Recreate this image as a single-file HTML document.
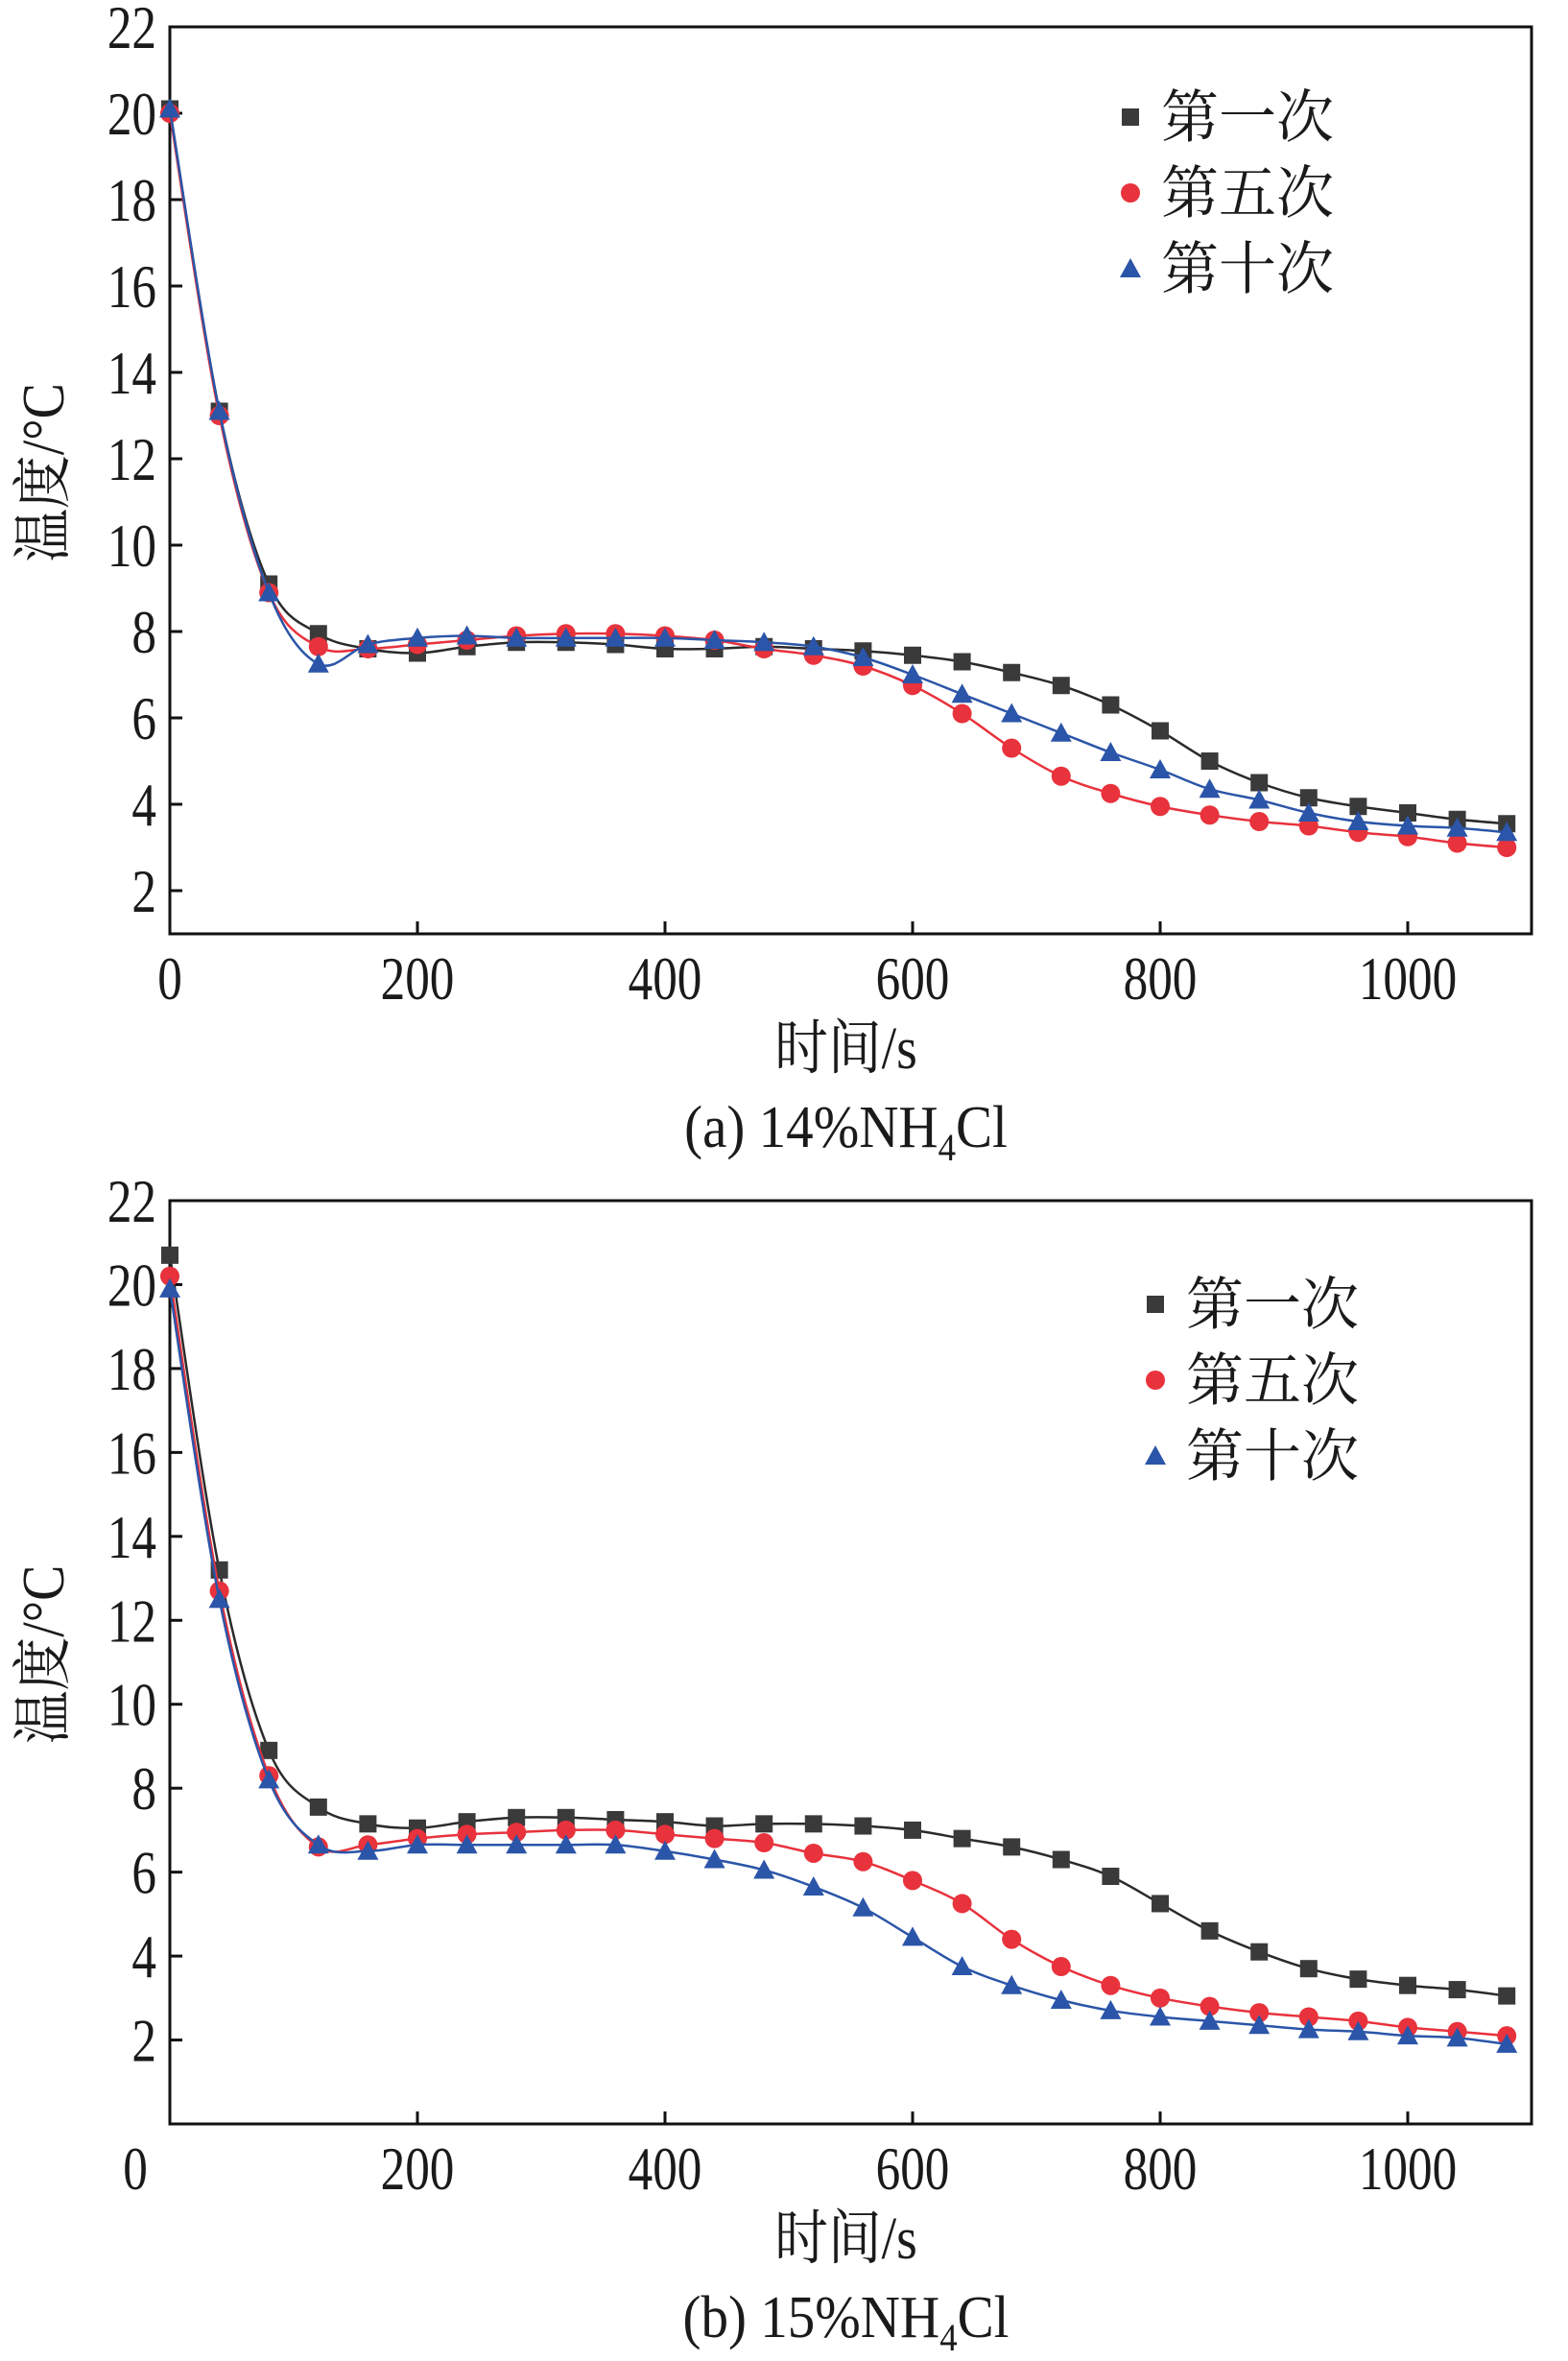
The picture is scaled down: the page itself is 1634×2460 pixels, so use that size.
<!DOCTYPE html>
<html><head><meta charset="utf-8">
<style>
html,body{margin:0;padding:0;background:#fff;}
svg{display:block;}
text{font-family:"Liberation Serif","Noto Serif CJK SC",serif;fill:#1a1a1a;}
</style></head>
<body>
<svg id="fig" width="1634" height="2460" viewBox="0 0 1634 2460" xmlns="http://www.w3.org/2000/svg"></svg>
<script>
const times = [0,40,80,120,160,200,240,280,320,360,400,440,480,520,560,600,640,680,720,760,800,840,880,920,960,1000,1040,1080];
const seriesNames = ["第一次","第五次","第十次"];
const aFirst = [20.1,13.1,9.1,7.95,7.6,7.5,7.65,7.75,7.75,7.7,7.6,7.6,7.65,7.6,7.55,7.45,7.3,7.05,6.75,6.3,5.7,5.0,4.5,4.15,3.95,3.8,3.65,3.55];
const aFifth = [20.0,13.0,8.9,7.65,7.6,7.7,7.8,7.9,7.95,7.95,7.9,7.8,7.6,7.45,7.2,6.75,6.1,5.3,4.65,4.25,3.95,3.75,3.6,3.5,3.35,3.25,3.1,3.0];
const aTenth = [20.1,13.1,8.9,7.25,7.7,7.85,7.9,7.85,7.85,7.85,7.85,7.8,7.75,7.65,7.4,7.0,6.55,6.1,5.65,5.2,4.8,4.35,4.1,3.8,3.6,3.5,3.45,3.35];
const bFirst = [20.7,13.2,8.9,7.55,7.15,7.05,7.2,7.3,7.3,7.25,7.2,7.1,7.15,7.15,7.1,7.0,6.8,6.6,6.3,5.9,5.25,4.6,4.1,3.7,3.45,3.3,3.2,3.05];
const bFifth = [20.2,12.7,8.3,6.6,6.65,6.8,6.9,6.95,7.0,7.0,6.9,6.8,6.7,6.45,6.25,5.8,5.25,4.4,3.75,3.3,3.0,2.8,2.65,2.55,2.45,2.3,2.2,2.1];
const bTenth = [19.9,12.5,8.2,6.65,6.5,6.65,6.65,6.65,6.65,6.65,6.5,6.3,6.05,5.65,5.15,4.45,3.75,3.3,2.95,2.7,2.55,2.45,2.35,2.25,2.2,2.1,2.05,1.9];
const xTicks = [0,200,400,600,800,1000];
const yTicks = [2,4,6,8,10,12,14,16,18,20,22];

const NS="http://www.w3.org/2000/svg";
const svg=document.getElementById('fig');
function mk(tag,attrs,parent){const e=document.createElementNS(NS,tag);for(const k in attrs)e.setAttribute(k,attrs[k]);(parent||svg).appendChild(e);return e;}
const colors=["#3a3a3a","#e8323c","#2b55a8"];
const lineColors=["#2a2a2a","#e8323c","#2b55a8"];

function smoothPath(pts){
  let d=`M${pts[0][0]},${pts[0][1]}`;
  for(let i=0;i<pts.length-1;i++){
    const p0=pts[i-1]||pts[i],p1=pts[i],p2=pts[i+1],p3=pts[i+2]||p2;
    const c1=[p1[0]+(p2[0]-p0[0])/6,p1[1]+(p2[1]-p0[1])/6];
    const c2=[p2[0]-(p3[0]-p1[0])/6,p2[1]-(p3[1]-p1[1])/6];
    d+=` C${c1[0]},${c1[1]} ${c2[0]},${c2[1]} ${p2[0]},${p2[1]}`;
  }
  return d;
}
function ntext(g,x,y,size,sx,anchor,content,isHtml){
  const t=mk('text',{x:0,y:0,'font-size':size,'text-anchor':anchor,transform:`translate(${x},${y}) scale(${sx},1)`},g);
  if(isHtml)t.innerHTML=content;else t.textContent=content;
  return t;
}

function chart(cfg){
  const g=mk('g',{});
  
  
  const L=177,R=1596,T=cfg.top,B=cfg.bottom,xmax=1100,ymin=cfg.ymin,ymax=22;
  const X=v=>L+(v/xmax)*(R-L);
  const Y=v=>B-(v-ymin)/(ymax-ymin)*(B-T);
  const frame=mk('rect',{x:L,y:T,width:R-L,height:B-T,fill:'none',stroke:'#111','stroke-width':3},g);
  
  
  yTicks.forEach(v=>{
    const t=mk('line',{x1:L,x2:L+13,y1:Y(v),y2:Y(v),stroke:'#111','stroke-width':3},g);
    
    
    const tx=ntext(g,L-14,Y(v)+22,64,0.8,'end',String(v));
    
    
  });
  xTicks.forEach(v=>{
    const t=mk('line',{x1:X(v),x2:X(v),y1:B,y2:B-13,stroke:'#111','stroke-width':3},g);
    
    
    const lx=(v===0&&cfg.zeroShift)?X(v)-36:X(v);
    const tx=ntext(g,lx,B+68,64,0.8,'middle',String(v));
    
    
  });
  const xt=ntext(g,(L+R)/2-5,B+140,62,0.9,'middle','时间/s');
  
  
  const yt=mk('text',{x:0,y:0,'font-size':62,'text-anchor':'middle',transform:`translate(66,${(T+B)/2-8}) rotate(-90) scale(0.9,1)`},g);
  yt.textContent='温度/°C';
  
  
  const cap=ntext(g,(L+R)/2-5,B+222,62,0.92,'middle',cfg.caption,true);
  
  

  cfg.series.forEach((vals,si)=>{
    const pts=vals.map((v,i)=>[X(times[i]),Y(v)]);
    const p=mk('path',{d:smoothPath(pts),fill:'none',stroke:lineColors[si],'stroke-width':2.5},g);
    
    
    pts.forEach(pt=>marker(g,si,pt[0],pt[1],9));
  });
  seriesNames.forEach((n,si)=>{
    const ly=cfg.legY+si*cfg.legGap;
    marker(g,si,cfg.legX,ly,9);
    const t=mk('text',{x:cfg.legX+32,y:ly+21,'font-size':60},g);
    t.textContent=n;
    
    
  });
}
function marker(g,si,x,y,r){
  let m;
  if(si===0) m=mk('rect',{x:x-r,y:y-r,width:2*r,height:2*r,fill:colors[0]},g);
  else if(si===1) m=mk('circle',{cx:x,cy:y,r:r+1,fill:colors[1]},g);
  else m=mk('polygon',{points:`${x},${y-r-2} ${x+r+2},${y+r} ${x-r-2},${y+r}`,fill:colors[2]},g);
  
  
}
chart({name:'chart-14pct',top:28,bottom:973,ymin:1,series:[aFirst,aFifth,aTenth],caption:'(a) 14%NH<tspan font-size="40" dy="14">4</tspan><tspan dy="-14">Cl</tspan>',legX:1178,legY:122,legGap:79,zeroShift:false});
chart({name:'chart-15pct',top:1251,bottom:2213,ymin:0,series:[bFirst,bFifth,bTenth],caption:'(b) 15%NH<tspan font-size="40" dy="14">4</tspan><tspan dy="-14">Cl</tspan>',legX:1204,legY:1359,legGap:79,zeroShift:true});
</script>
</body></html>
